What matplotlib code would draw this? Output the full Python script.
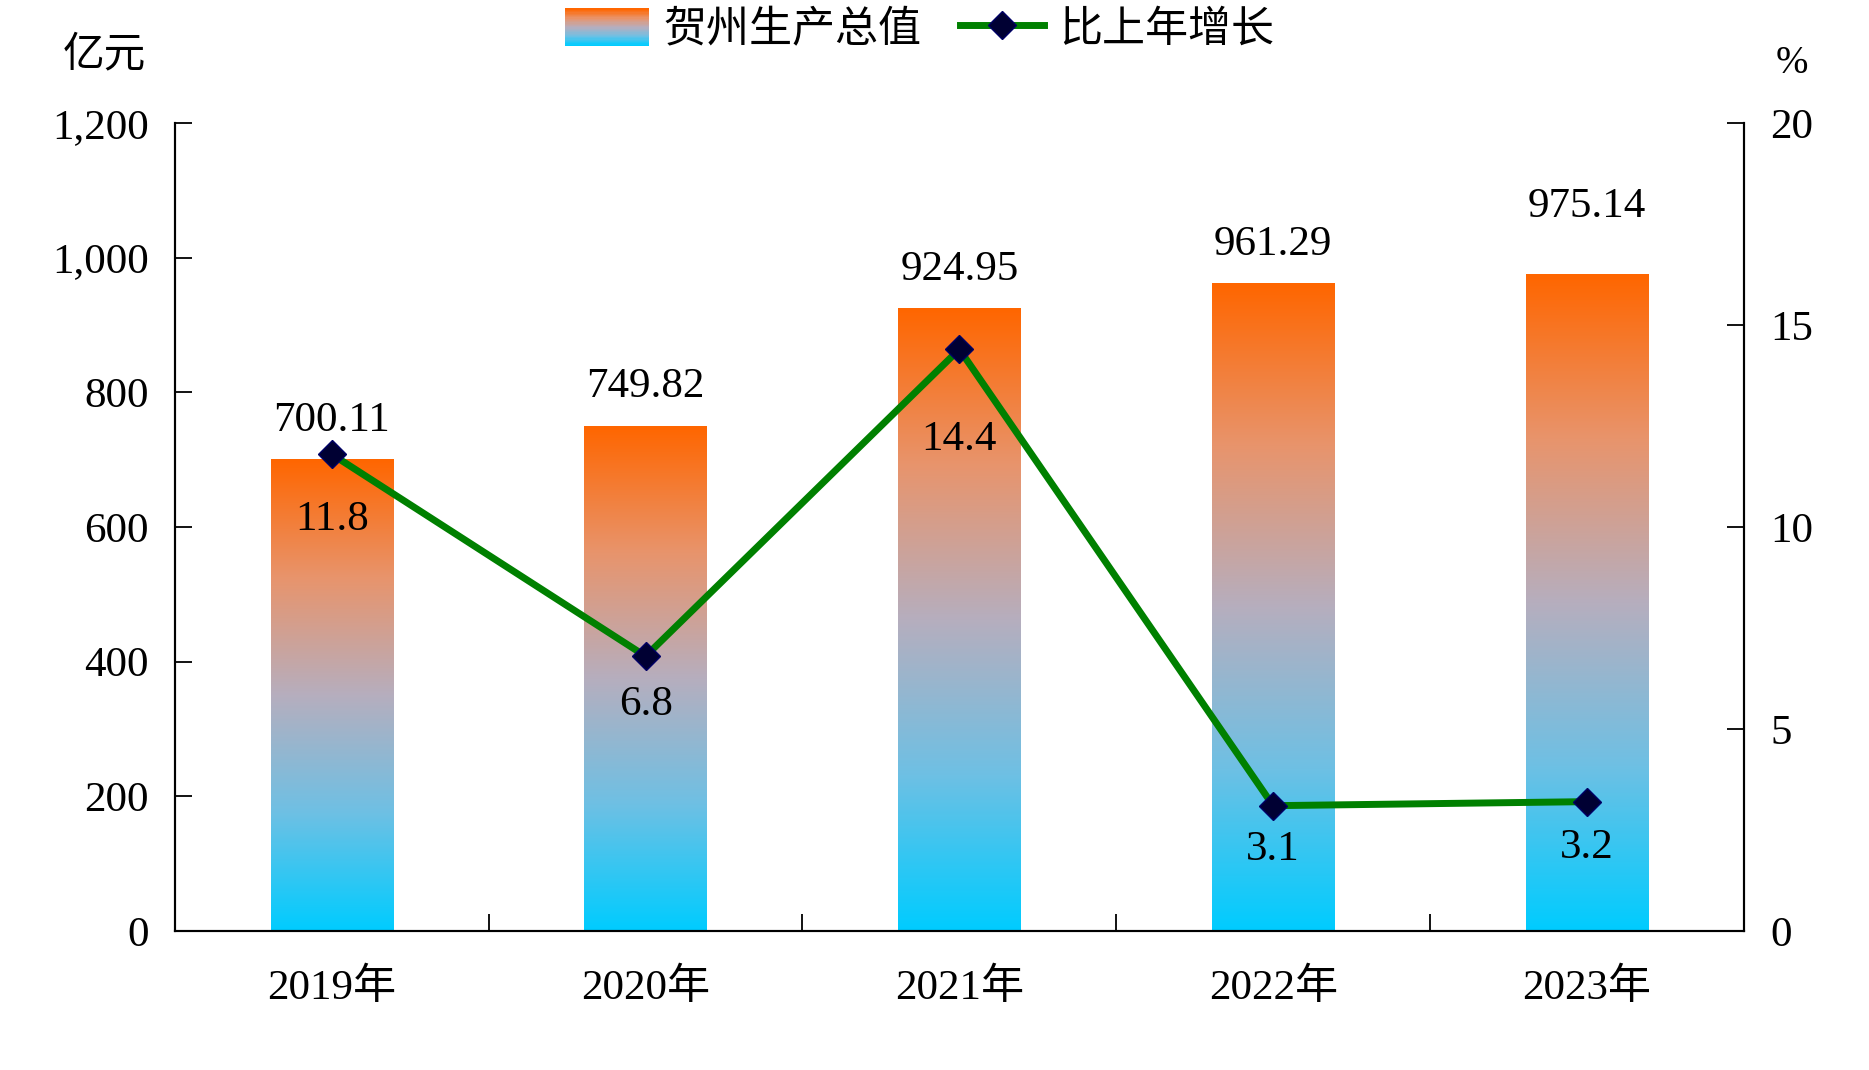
import matplotlib
matplotlib.use("Agg")
import matplotlib.pyplot as plt
import numpy as np
from matplotlib.colors import LinearSegmentedColormap
from matplotlib.legend_handler import HandlerBase
from matplotlib.patches import Rectangle, Patch
from matplotlib.lines import Line2D
from matplotlib.ticker import FuncFormatter, MultipleLocator, FixedLocator

plt.rcParams['font.family'] = ['Liberation Serif', 'Noto Sans CJK SC']

years = ["2019年", "2020年", "2021年", "2022年", "2023年"]
gdp = [700.11, 749.82, 924.95, 961.29, 975.14]
growth = [11.8, 6.8, 14.4, 3.1, 3.2]
# label offsets in points (hand-placed in the original)
gdp_offsets = [28, 28, 28, 28, 49]
growth_offsets = [-47, -35, -65, -32, -33]

cmap = LinearSegmentedColormap.from_list(
    "grad", ["#00CCFF", "#6EC0E4", "#B6AEBE", "#E8946C", "#FF6600"])

FS = 31


class GradientHandler(HandlerBase):
    def create_artists(self, legend, orig_handle, xdescent, ydescent,
                       width, height, fontsize, trans):
        n = 30
        arts = []
        for i in range(n):
            r = Rectangle((-xdescent, -ydescent + height * i / n), width,
                          height / n + 0.3, facecolor=cmap(i / (n - 1)),
                          edgecolor='none', transform=trans)
            arts.append(r)
        return arts


fig = plt.figure(figsize=(18.69, 10.70), dpi=100)
ax = fig.add_axes([0.0936, 0.130, 0.8394, 0.755])
ax2 = ax.twinx()

x = np.arange(len(years))
w = 0.39
grad = np.linspace(0, 1, 256).reshape(-1, 1)
for xi, v, off in zip(x, gdp, gdp_offsets):
    ax.imshow(grad, cmap=cmap, origin='lower', aspect='auto',
              extent=[xi - w / 2, xi + w / 2, 0, v], zorder=2)
    ax.annotate(f"{v:.2f}", (xi, v), xytext=(0, off), textcoords='offset points',
                ha='center', va='center', fontsize=FS, zorder=5)

ax.set_xlim(-0.5, len(years) - 0.5)
ax.set_ylim(0, 1200)
ax.yaxis.set_major_locator(MultipleLocator(200))
ax.yaxis.set_major_formatter(FuncFormatter(lambda v, p: f"{v:,.0f}"))
ax.set_xticks(x)
ax.set_xticklabels(years)
ax.xaxis.set_minor_locator(FixedLocator(x[:-1] + 0.5))
ax.tick_params(axis='x', which='major', length=0, labelsize=FS, pad=27)
ax.tick_params(axis='x', which='minor', direction='in', length=12, width=1.3)
ax.tick_params(axis='y', direction='in', length=12, width=1.3,
               labelsize=FS, pad=19)

line_kw = dict(color='#008000', lw=5, marker='D', markersize=14,
               markerfacecolor='#000033', markeredgecolor='#000066')
ax2.plot(x, growth, zorder=4, **line_kw)
for xi, g, off in zip(x, growth, growth_offsets):
    ax2.annotate(f"{g}", (xi, g), xytext=(0, off), textcoords='offset points',
                 ha='center', va='center', fontsize=FS, zorder=6)
ax2.set_ylim(0, 20)
ax2.yaxis.set_major_locator(MultipleLocator(5))
ax2.tick_params(axis='y', direction='in', length=12, width=1.3,
                labelsize=FS, pad=19)

for a in (ax, ax2):
    a.spines['top'].set_visible(False)
    for s in ('left', 'right', 'bottom'):
        a.spines[s].set_linewidth(1.5)
ax.set_zorder(ax2.get_zorder() - 1)
ax2.patch.set_visible(False)

fig.text(0.056, 0.948, "亿元", fontsize=30, ha='center', va='center')
fig.text(0.959, 0.941, "%", fontsize=28, ha='center', va='center')

handles = [Patch(label="贺州生产总值"),
           Line2D([], [], label="比上年增长", **line_kw)]
fig.legend(handles=handles, loc='center', bbox_to_anchor=(0.492, 0.972),
           ncol=2, frameon=False, fontsize=FS, handlelength=1.95,
           handleheight=0.95, columnspacing=0.9, handletextpad=0.35,
           handler_map={Patch: GradientHandler()})

fig.savefig("out.png", dpi=100)
